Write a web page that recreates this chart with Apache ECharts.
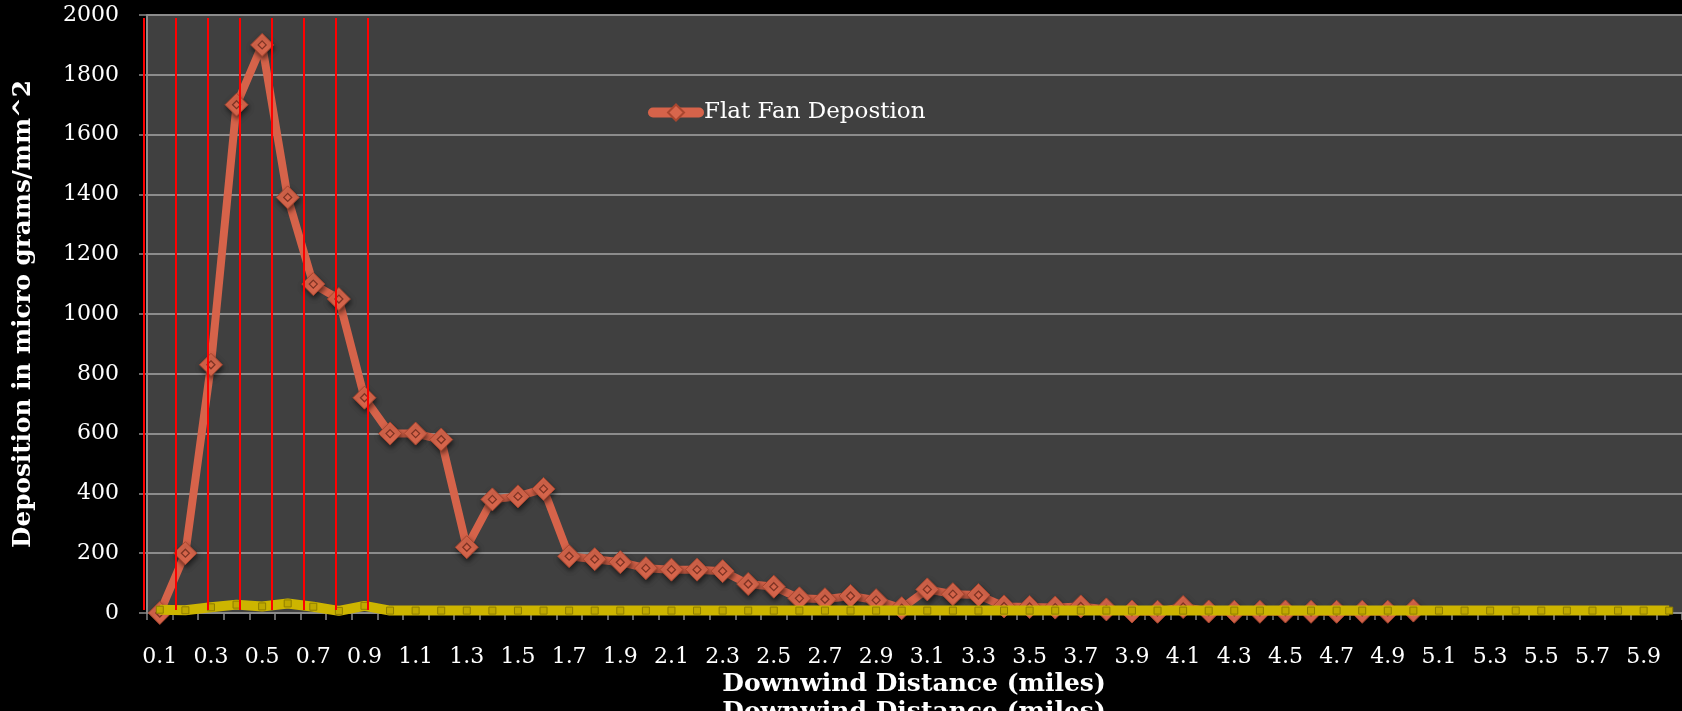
<!DOCTYPE html>
<html>
<head>
<meta charset="utf-8">
<title>Flat Fan Deposition</title>
<script src="https://cdn.jsdelivr.net/npm/echarts@6/dist/echarts.min.js"></script>
<style>
  html, body { margin: 0; padding: 0; background: #000; }
  #chart { width: 1682px; height: 711px; }
</style>
</head>
<body>
<div id="chart"></div>
<script>
// Downwind distance categories (miles)
const categories = [
  '0.1','0.2','0.3','0.4','0.5','0.6','0.7','0.8','0.9','1.0',
  '1.1','1.2','1.3','1.4','1.5','1.6','1.7','1.8','1.9','2.0',
  '2.1','2.2','2.3','2.4','2.5','2.6','2.7','2.8','2.9','3.0',
  '3.1','3.2','3.3','3.4','3.5','3.6','3.7','3.8','3.9','4.0',
  '4.1','4.2','4.3','4.4','4.5','4.6','4.7','4.8','4.9','5.0',
  '5.1','5.2','5.3','5.4','5.5','5.6','5.7','5.8','5.9','6.0'
];

// Flat fan nozzle deposition (micro grams/mm^2), measured out to 5.0 miles
const flatFanDeposition = [
  0, 200, 830, 1700, 1900, 1390, 1100, 1050, 720, 600,
  600, 580, 220, 380, 390, 415, 190, 180, 170, 150,
  145, 145, 140, 97, 88, 49, 46, 57, 43, 16,
  79, 63, 60, 22, 20, 18, 22, 12, 5, 4,
  20, 5, 4, 4, 5, 4, 4, 4, 4, 8
];

// Second nozzle deposition (micro grams/mm^2)
const secondDeposition = [
  11, 9, 19, 28, 22, 32, 21, 7, 24, 8,
  8, 8, 8, 8, 8, 8, 8, 8, 8, 8,
  8, 8, 8, 8, 8, 8, 8, 8, 8, 8,
  8, 8, 8, 8, 8, 8, 8, 8, 8, 8,
  8, 8, 8, 8, 8, 8, 8, 8, 8, 8,
  8, 8, 8, 8, 8, 8, 8, 8, 8, 8
];

// Reference distances marked every eighth of a mile (miles)
const eighthMileMarks = [0, 0.125, 0.25, 0.375, 0.5, 0.625, 0.75, 0.875];

const yTicks = { min: 0, max: 2000, interval: 200 };

const FONT = '"DejaVu Serif", "Liberation Serif", serif';
const ORANGE = '#d6634a';
const YELLOW = '#cdb500';

const chart = echarts.init(document.getElementById('chart'), null, { renderer: 'canvas' });

chart.setOption({
  backgroundColor: '#000000',
  animation: false,
  textStyle: { fontFamily: FONT },
  grid: [
    { left: 147, top: 15, right: 0, bottom: 98, show: true, backgroundColor: '#404040', borderWidth: 0 },
    { left: 144, top: 18, width: 1536, height: 592, show: false }
  ],
  legend: {
    data: ['Flat Fan Depostion'],
    left: 648, top: 101, padding: 0,
    itemWidth: 46, itemHeight: 20,
    lineStyle: { width: 10, color: ORANGE, cap: 'round' },
    textStyle: { color: '#ffffff', fontSize: 23, fontFamily: FONT }
  },
  xAxis: [
    {
      type: 'category', gridIndex: 0, data: categories, boundaryGap: true,
      axisLine: { show: true, lineStyle: { color: '#8c8c8c', width: 2 } },
      axisTick: { show: true, interval: 0, length: 7, lineStyle: { color: '#8c8c8c', width: 1.5 } },
      axisLabel: { interval: 1, color: '#ffffff', fontSize: 22, fontFamily: FONT, margin: 33 },
      splitLine: { show: false }
    },
    {
      type: 'value', gridIndex: 1, min: 0, max: 6, show: false
    }
  ],
  yAxis: [
    {
      type: 'value', gridIndex: 0, min: yTicks.min, max: yTicks.max, interval: yTicks.interval,
      axisLine: { show: true, lineStyle: { color: '#8c8c8c', width: 2 } },
      axisTick: { show: true, length: 8, lineStyle: { color: '#8c8c8c', width: 1.5 } },
      axisLabel: { color: '#ffffff', fontSize: 22, fontFamily: FONT, margin: 28,
                   formatter: function (v) { return String(v); } },
      splitLine: { show: true, lineStyle: { color: '#8c8c8c', width: 2 } }
    },
    {
      type: 'value', gridIndex: 1, min: 0, max: 1, show: false
    }
  ],
  graphic: [
    {
      type: 'text', z: 10,
      style: { text: 'Deposition in micro grams/mm^2', fill: '#ffffff', font: 'bold 24.7px ' + FONT,
               textAlign: 'center', textVerticalAlign: 'middle' },
      x: 24, y: 314, rotation: Math.PI / 2
    },
    {
      type: 'text', z: 10,
      style: { text: 'Downwind Distance (miles)', fill: '#ffffff', font: 'bold 25px ' + FONT,
               textAlign: 'center', textVerticalAlign: 'middle' },
      x: 914, y: 684
    },
    {
      type: 'text', z: 10,
      style: { text: 'Downwind Distance (miles)', fill: '#ffffff', font: 'bold 25px ' + FONT,
               textAlign: 'center', textVerticalAlign: 'middle' },
      x: 914, y: 712
    }
  ],
  series: [
    {
      name: 'Flat Fan Depostion', type: 'line', xAxisIndex: 0, yAxisIndex: 0,
      data: flatFanDeposition, z: 2,
      symbol: 'diamond', symbolSize: 23, showSymbol: true, showAllSymbol: true,
      lineStyle: { color: ORANGE, width: 8 },
      itemStyle: { color: '#d8664c', borderColor: '#a9462f', borderWidth: 1,
                   shadowBlur: 5, shadowOffsetX: 1, shadowOffsetY: 3, shadowColor: 'rgba(0,0,0,0.55)' }
    },
    {
      name: 'marker centre', type: 'line', xAxisIndex: 0, yAxisIndex: 0,
      data: flatFanDeposition, z: 3, silent: true,
      symbol: 'diamond', symbolSize: 8, showSymbol: true, showAllSymbol: true,
      lineStyle: { width: 0, opacity: 0 },
      itemStyle: { color: 'rgba(0,0,0,0)', borderColor: '#7e3424', borderWidth: 1.3 }
    },
    {
      name: 'Second Deposition', type: 'line', xAxisIndex: 0, yAxisIndex: 0,
      data: secondDeposition, z: 4,
      symbol: 'rect', symbolSize: 7, showSymbol: true, showAllSymbol: true,
      lineStyle: { color: YELLOW, width: 10 },
      itemStyle: { color: '#c0a900', borderColor: '#8f7e00', borderWidth: 1 }
    },
    {
      name: 'eighth-mile marks', type: 'custom', xAxisIndex: 1, yAxisIndex: 1,
      coordinateSystem: 'cartesian2d', z: 20, silent: true, clip: false,
      data: eighthMileMarks.map(function (d) { return [d]; }),
      encode: { x: 0 },
      renderItem: function (params, api) {
        const x = api.value(0);
        const p0 = api.coord([x, 0]);
        const p1 = api.coord([x, 1]);
        return {
          type: 'line',
          shape: { x1: p0[0], y1: p0[1], x2: p1[0], y2: p1[1] },
          style: { stroke: '#ff0000', lineWidth: 2 }
        };
      }
    }
  ]
});
</script>
</body>
</html>
